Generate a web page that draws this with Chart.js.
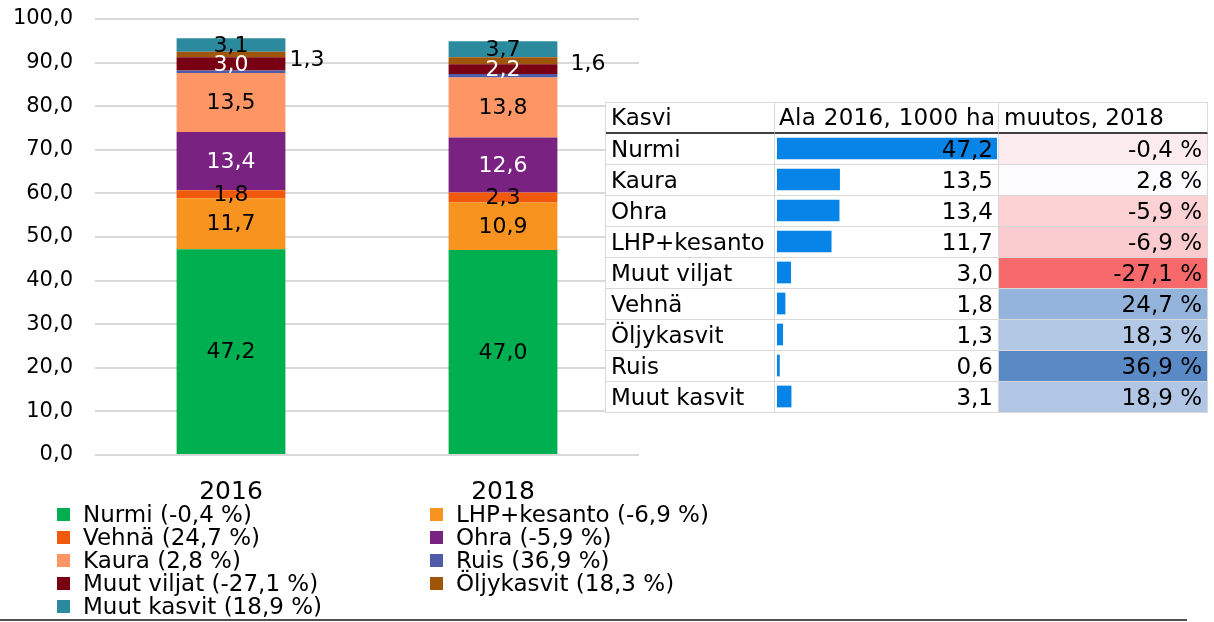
<!DOCTYPE html>
<html>
<head>
<meta charset="utf-8">
<script src="https://cdn.jsdelivr.net/npm/chart.js@4.4.1/dist/chart.umd.min.js"></script>
<style>
  body { margin: 0; background: #fff; font-family: 'DejaVu Sans', sans-serif; }
  #wrap { position: relative; width: 1214px; height: 622px; overflow: hidden; }
  #main { position: absolute; left: 0; top: 0; }
  #legend { position: absolute; left: 57px; top: 503px; display: grid; grid-template-columns: 373px 300px; grid-auto-rows: 23px; font-size: 23px; line-height: 23px; color: #000; }
  #legend .item { display: flex; align-items: center; white-space: nowrap; }
  #legend .sw { width: 13px; height: 13px; margin-right: 13px; flex: none; }
  #tblBg { position: absolute; left: 605px; top: 102px; width: 602px; height: 310px; background: #fff; z-index: 1; }
  #bars { position: absolute; left: 777px; top: 133px; z-index: 2; }
  #tbl { position: absolute; left: 605px; top: 102px; z-index: 3; display: grid; grid-template-columns: 169px 224px 209px; grid-auto-rows: 31px; font-size: 23px; color: #000; border-left: 1px solid #d9d9d9; border-top: 1px solid #d9d9d9; }
  #tbl div { box-sizing: border-box; border-right: 1px solid #d9d9d9; border-bottom: 1px solid #d9d9d9; padding: 0 5px; line-height: 30px; white-space: nowrap; overflow: hidden; }
  #tbl .hd { border-bottom: 2px solid #404040; line-height: 29px; }
  #tbl .hd.v { padding-left: 4px; padding-right: 0; overflow: visible; letter-spacing: 0.3px; }
  #tbl .num { text-align: right; }
  #baseline { position: absolute; left: 0; top: 619px; width: 1187px; height: 2px; background: #505050; }
</style>
</head>
<body>
<div id="wrap">
  <canvas id="main" width="650" height="505"></canvas>
  <div id="legend"></div>
  <div id="tblBg"></div>
  <canvas id="bars" width="220" height="279"></canvas>
  <div id="tbl"></div>
  <div id="baseline"></div>
</div>
<script>
// stacked bar data, bottom to top
const years = ['2016', '2018']
const crops = ['Nurmi', 'LHP+kesanto', 'Vehnä', 'Ohra', 'Kaura', 'Ruis', 'Muut viljat', 'Öljykasvit', 'Muut kasvit']
const values2016 = [47.2, 11.7, 1.8, 13.4, 13.5, 0.6, 3.0, 1.3, 3.1]
const values2018 = [47.0, 10.9, 2.3, 12.6, 13.8, 0.8, 2.2, 1.6, 3.7]
const changes = [-0.4, -6.9, 24.7, -5.9, 2.8, 36.9, -27.1, 18.3, 18.9]
const yTicks = [0, 10, 20, 30, 40, 50, 60, 70, 80, 90, 100]

// table rows (sorted by area)
const tableOrder = ['Nurmi', 'Kaura', 'Ohra', 'LHP+kesanto', 'Muut viljat', 'Vehnä', 'Öljykasvit', 'Ruis', 'Muut kasvit']
const tableHeaders = ['Kasvi', 'Ala 2016, 1000 ha', 'muutos, 2018']

const colors = ['#00b050', '#f7931e', '#f15a0c', '#7a2281', '#fe9565', '#4f5aa8', '#780012', '#a05608', '#2b8a9e']
const labelColors = ['#000', '#000', '#000', '#fff', '#000', '#000', '#fff', '#000', '#000']

const fmt = (v) => v.toFixed(1).replace('.', ',')
const FONT = "'DejaVu Sans', sans-serif"

/* MAIN CHART */

const barLabels = {
  id: 'barLabels',
  afterDatasetsDraw(chart) {
    const { ctx } = chart
    ctx.save()
    ctx.font = `22px ${FONT}`
    ctx.textBaseline = 'middle'
    chart.data.datasets.forEach((ds, i) => {
      const meta = chart.getDatasetMeta(i)
      meta.data.forEach((bar, j) => {
        const v = ds.data[j]
        if (v < 1) return // Ruis has no label
        const y = (bar.y + bar.base) / 2
        if (ds.label === 'Öljykasvit') {
          ctx.fillStyle = '#000'
          ctx.textAlign = 'left'
          ctx.fillText(fmt(v), bar.x + bar.width / 2 + (j === 0 ? 4 : 13), y + (j === 0 ? 6 : 3))
        } else {
          ctx.fillStyle = labelColors[i]
          ctx.textAlign = 'center'
          ctx.fillText(fmt(v), bar.x, y + 1)
        }
      })
    })
    ctx.restore()
  }
}

const datasets = crops.map((c, i) => ({
  label: c,
  data: [values2016[i], values2018[i]],
  backgroundColor: colors[i],
  borderWidth: 0,
  barPercentage: 0.4,
  categoryPercentage: 1.0
}))

new Chart(document.getElementById('main'), {
  type: 'bar',
  data: { labels: years, datasets },
  options: {
    responsive: false,
    animation: false,
    layout: { padding: { top: 19, right: 11, left: 0, bottom: 0 } },
    plugins: { legend: { display: false }, tooltip: { enabled: false } },
    scales: {
      x: {
        stacked: true,
        grid: { display: false },
        border: { display: false },
        ticks: { color: '#000', font: { family: FONT, size: 25 }, padding: 14 },
        afterFit(scale) { scale.height = 50 }
      },
      y: {
        stacked: true,
        min: yTicks[0],
        max: yTicks[yTicks.length - 1],
        afterBuildTicks(scale) { scale.ticks = yTicks.map((v) => ({ value: v })) },
        grid: { color: '#d9d9d9', lineWidth: 2, drawTicks: false },
        border: { display: false },
        ticks: { color: '#000', font: { family: FONT, size: 21 }, padding: 22, callback: (v) => fmt(v) },
        afterFit(scale) {
          scale.width = 95
          scale.paddingTop = 0
          scale.paddingBottom = 0
        }
      }
    }
  },
  plugins: [barLabels]
})

/* LEGEND */

const legend = document.getElementById('legend')
crops.forEach((c, i) => {
  const sign = changes[i] < 0 ? '-' : ''
  const item = document.createElement('div')
  item.className = 'item'
  item.innerHTML = `<span class="sw" style="background:${colors[i]}"></span><span>${c} (${sign}${fmt(Math.abs(changes[i]))} %)</span>`
  legend.appendChild(item)
})

/* TABLE */

const tableVals = tableOrder.map((c) => values2016[crops.indexOf(c)])
const tableChanges = tableOrder.map((c) => changes[crops.indexOf(c)])

// excel style 3 colour scale: min red, median white, max blue
function scaleColor(v) {
  const sorted = [...tableChanges].sort((a, b) => a - b)
  const min = sorted[0], max = sorted[sorted.length - 1]
  const mid = sorted[Math.floor(sorted.length / 2)]
  const red = [248, 105, 107], white = [252, 252, 255], blue = [90, 138, 198]
  let t, to
  if (v <= mid) { t = (mid - v) / (mid - min); to = red } else { t = (v - mid) / (max - mid); to = blue }
  const c = white.map((w, k) => Math.round(w + (to[k] - w) * t))
  return `rgb(${c[0]},${c[1]},${c[2]})`
}

const tbl = document.getElementById('tbl')
tableHeaders.forEach((h, k) => {
  const d = document.createElement('div')
  d.className = 'hd' + (k === 1 ? ' v' : '')
  d.textContent = h
  tbl.appendChild(d)
})
tableOrder.forEach((c, r) => {
  const a = document.createElement('div')
  a.textContent = c
  const b = document.createElement('div')
  b.className = 'num'
  b.textContent = fmt(tableVals[r])
  const m = document.createElement('div')
  m.className = 'num'
  m.style.background = scaleColor(tableChanges[r])
  m.textContent = fmt(tableChanges[r]) + ' %'
  tbl.append(a, b, m)
})

// data bars in the area column
new Chart(document.getElementById('bars'), {
  type: 'bar',
  data: {
    labels: tableOrder,
    datasets: [{ data: tableVals, backgroundColor: '#0784e8', borderWidth: 0, barPercentage: 0.7, categoryPercentage: 1.0 }]
  },
  options: {
    indexAxis: 'y',
    responsive: false,
    animation: false,
    layout: { padding: 0 },
    plugins: { legend: { display: false }, tooltip: { enabled: false } },
    scales: {
      x: { display: false, min: 0, max: Math.max(...tableVals) },
      y: { display: false }
    }
  }
})
</script>
</body>
</html>
